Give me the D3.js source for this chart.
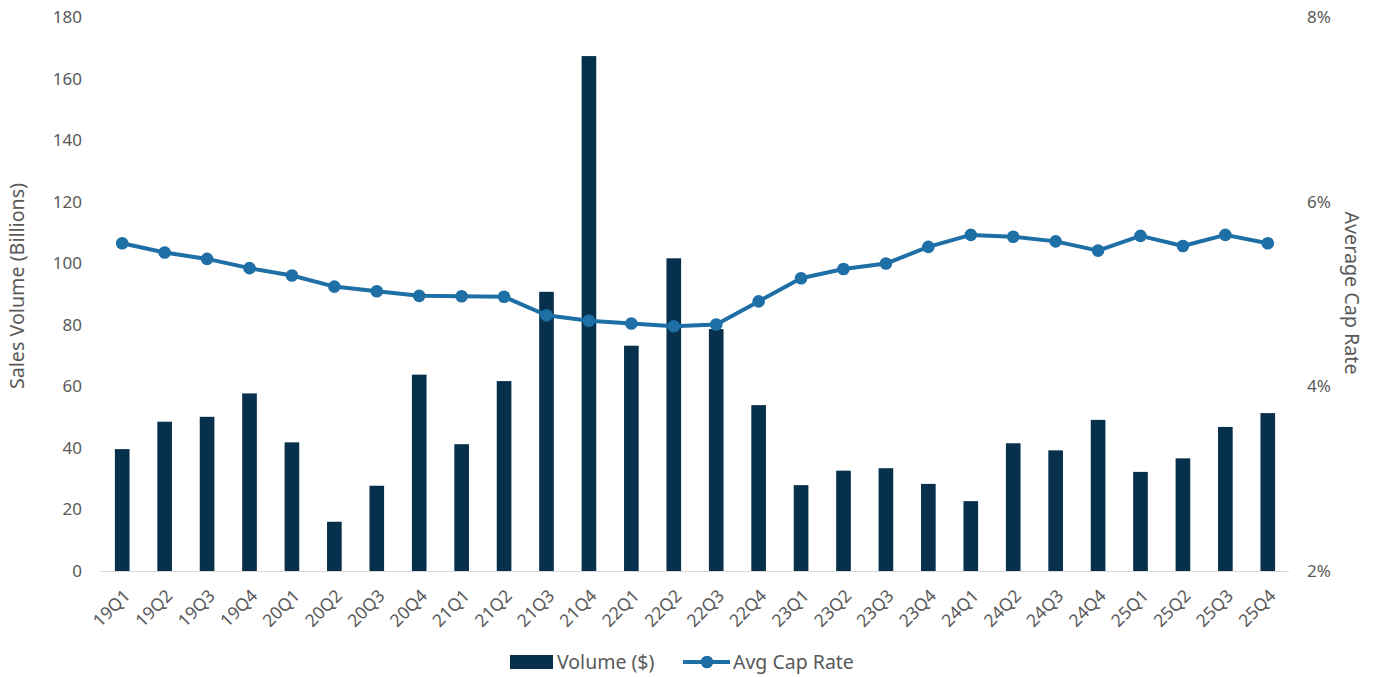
<!DOCTYPE html>
<html><head><meta charset="utf-8">
<script src="https://cdn.jsdelivr.net/npm/d3@7"></script>
<style>
html,body{margin:0;padding:0;background:#fff;}
svg{display:block;}
text{font-family:"Noto Sans","Open Sans",sans-serif;fill:#595959;}
</style></head>
<body>
<svg id="c" width="1376" height="677"></svg>
<script>
const categories = ["19Q1","19Q2","19Q3","19Q4","20Q1","20Q2","20Q3","20Q4","21Q1","21Q2","21Q3","21Q4","22Q1","22Q2","22Q3","22Q4","23Q1","23Q2","23Q3","23Q4","24Q1","24Q2","24Q3","24Q4","25Q1","25Q2","25Q3","25Q4"];
const volume = [39.6,48.5,50.1,57.7,41.8,16.0,27.7,63.8,41.2,61.7,90.7,167.3,73.2,101.6,78.6,53.9,27.9,32.6,33.4,28.3,22.7,41.5,39.2,49.1,32.2,36.6,46.8,51.3];
const capRate = [5.55,5.45,5.38,5.28,5.20,5.08,5.03,4.98,4.975,4.97,4.77,4.71,4.68,4.65,4.67,4.92,5.17,5.27,5.33,5.51,5.64,5.62,5.57,5.47,5.63,5.52,5.64,5.55];
const leftTicks = [0,20,40,60,80,100,120,140,160,180];
const rightTicks = [2,4,6,8];

const svg = d3.select("#c");
const x = d3.scaleBand().domain(categories).range([101,1289]).paddingInner(0.655).paddingOuter(0.3275);
const yL = d3.scaleLinear().domain([0,180]).range([571,17]);
const yR = d3.scaleLinear().domain([2,8]).range([571,17]);

// left axis
const gl = svg.append("g").attr("transform","translate(82,0)")
  .call(d3.axisLeft(yL).tickValues(leftTicks).tickSize(0).tickPadding(0));
gl.select(".domain").remove();
gl.selectAll("text").style("font-size","17px").attr("fill","#595959");

// right axis
const gr = svg.append("g").attr("transform","translate(1307,0)")
  .call(d3.axisRight(yR).tickValues(rightTicks).tickFormat(d=>d+"%").tickSize(0).tickPadding(0));
gr.select(".domain").remove();
gr.selectAll("text").style("font-size","17px").attr("fill","#595959");

// bars
svg.append("g").selectAll("rect").data(volume).join("rect")
  .attr("x",(d,i)=>x(categories[i]))
  .attr("width",x.bandwidth())
  .attr("y",d=>yL(d))
  .attr("height",d=>yL(0)-yL(d))
  .attr("fill","#06304b");

// baseline
svg.append("line").attr("x1",101).attr("x2",1289).attr("y1",571.5).attr("y2",571.5)
  .attr("stroke","#d9d9d9").attr("stroke-width",1);

// x labels
const gx = svg.append("g").attr("transform","translate(0,571)")
  .call(d3.axisBottom(x).tickSize(0).tickPadding(0));
gx.select(".domain").remove();
gx.selectAll("text").style("font-size","17.5px").attr("fill","#595959")
  .attr("text-anchor","end").attr("dy","0").attr("dx","0")
  .attr("transform","translate(9,26) rotate(-45)");

// line
const cx = (i)=>x(categories[i])+x.bandwidth()/2;
const line = d3.line().x((d,i)=>cx(i)).y(d=>yR(d));
svg.append("path").datum(capRate).attr("d",line)
  .attr("fill","none").attr("stroke","#1d6fa5").attr("stroke-width",4).attr("stroke-linejoin","round");
svg.append("g").selectAll("circle").data(capRate).join("circle")
  .attr("cx",(d,i)=>cx(i)).attr("cy",d=>yR(d)).attr("r",6.3).attr("fill","#1d6fa5");

// axis titles
svg.append("text").attr("transform","translate(24,286) rotate(-90)").attr("text-anchor","middle")
  .style("font-size","19.7px").text("Sales Volume (Billions)");
svg.append("text").attr("transform","translate(1345,293) rotate(90)").attr("text-anchor","middle")
  .style("font-size","19.7px").text("Average Cap Rate");

// legend
const lg = svg.append("g");
lg.append("rect").attr("x",510).attr("y",655).attr("width",43).attr("height",14).attr("fill","#06304b");
lg.append("text").attr("x",557).attr("y",669).style("font-size","19.5px").text("Volume ($)");
lg.append("line").attr("x1",683).attr("x2",730).attr("y1",662).attr("y2",662).attr("stroke","#1d6fa5").attr("stroke-width",4);
lg.append("circle").attr("cx",707).attr("cy",662).attr("r",6.3).attr("fill","#1d6fa5");
lg.append("text").attr("x",733).attr("y",669).style("font-size","19.5px").text("Avg Cap Rate");
</script>
</body></html>
